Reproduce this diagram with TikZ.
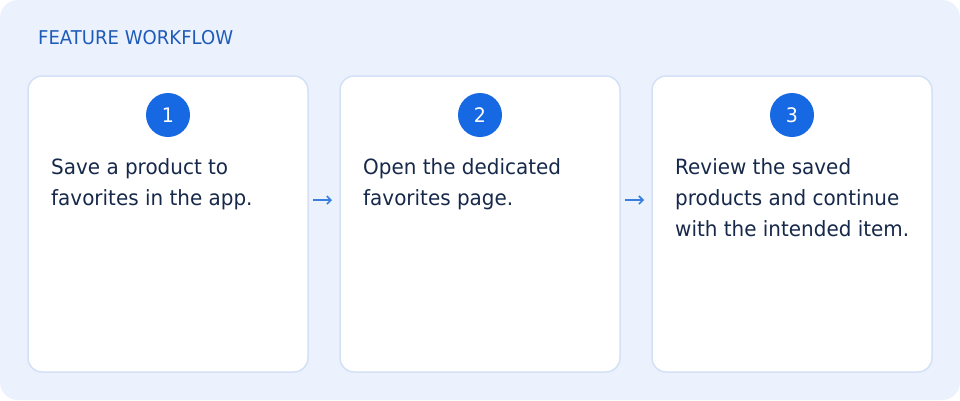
\documentclass[tikz,border=0pt]{standalone}
\usepackage{fontspec}
\setmainfont{DejaVu Sans}[FakeStretch=0.95]
\usetikzlibrary{arrows.meta}
\definecolor{bgfill}{HTML}{EBF2FE}
\definecolor{cardline}{HTML}{D3E0F5}
\definecolor{badge}{HTML}{1668E3}
\definecolor{titlec}{HTML}{1E5BB8}
\definecolor{bodyc}{HTML}{17294A}
\definecolor{arrowc}{HTML}{3A7FE0}
\tikzset{
  card/.style={draw=cardline, line width=1.5pt, fill=white, rounded corners=14pt},
  badgestyle/.style={circle, fill=badge, minimum size=44pt, inner sep=0pt, text=white, font=\fontsize{20pt}{20pt}\selectfont},
  bodytext/.style={anchor=north west, align=left, inner sep=0pt, text=bodyc, font=\fontsize{21pt}{31pt}\selectfont},
  flow/.style={-{Straight Barb[length=4pt,width=8pt]}, draw=arrowc, line width=1.6pt},
}
\begin{document}
\begin{tikzpicture}[x=1pt,y=-1pt]
\useasboundingbox (0,0) rectangle (960,400);
\fill[bgfill, rounded corners=18pt] (0,0) rectangle (960,400);
\node[anchor=base west, inner sep=0pt, text=titlec, font=\fontsize{19pt}{19pt}\selectfont] (title) at (38,44) {FEATURE WORKFLOW};
\foreach \i/\x in {1/28, 2/340, 3/652} {
  \draw[card] (\x,76) rectangle (\x+280,372);
  \coordinate (c\i w) at (\x,200);
  \coordinate (c\i e) at (\x+280,200);
  \node[badgestyle] (b\i) at (\x+140,115) {\i};
}
\node[bodytext] (t1) at (51,158) {Save a product to\\favorites in the app.};
\node[bodytext] (t2) at (363,158) {Open the dedicated\\favorites page.};
\node[bodytext] (t3) at (675,158) {Review the saved\\products and continue\\with the intended item.};
\draw[flow] ([xshift=5pt]c1e) -- ([xshift=-8pt]c2w);
\draw[flow] ([xshift=5pt]c2e) -- ([xshift=-8pt]c3w);
\end{tikzpicture}
\end{document}
